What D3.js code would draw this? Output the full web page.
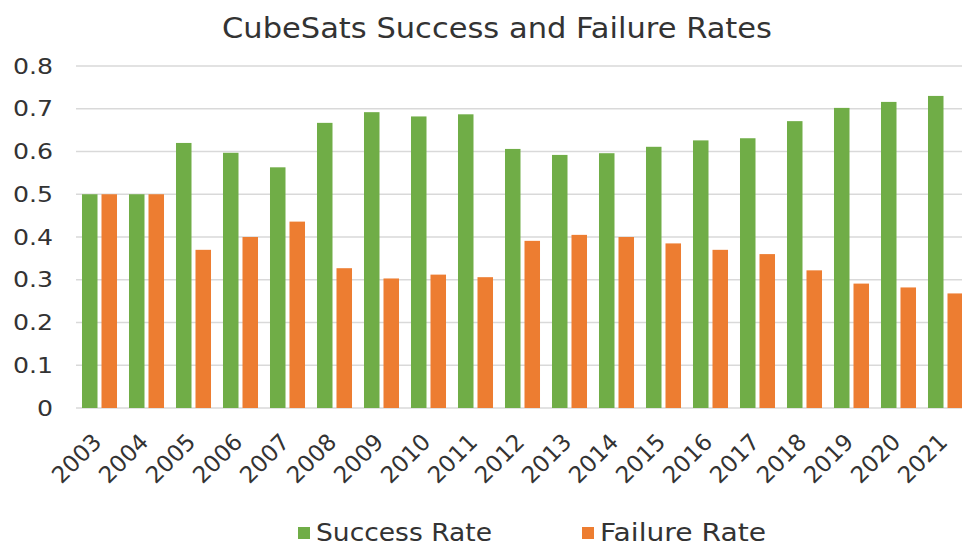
<!DOCTYPE html>
<html>
<head>
<meta charset="utf-8">
<script src="https://cdn.jsdelivr.net/npm/d3@7"></script>
<style>
  body { margin: 0; background: #fff; }
  svg { display: block; font-family: "DejaVu Sans", Verdana, sans-serif; }
</style>
</head>
<body>
<div id="chart"></div>
<script>
const width = 962;
const height = 546;

// data
const years = ["2003", "2004", "2005", "2006", "2007", "2008", "2009", "2010", "2011", "2012",
  "2013", "2014", "2015", "2016", "2017", "2018", "2019", "2020", "2021"];
const successRate = [0.5, 0.5, 0.62, 0.597, 0.563, 0.667, 0.692, 0.682, 0.687, 0.606,
  0.592, 0.596, 0.611, 0.626, 0.631, 0.671, 0.702, 0.716, 0.73];
const failureRate = [0.5, 0.5, 0.37, 0.4, 0.436, 0.327, 0.303, 0.312, 0.306, 0.391,
  0.405, 0.4, 0.385, 0.37, 0.36, 0.322, 0.291, 0.282, 0.268];
const seriesNames = ["Success Rate", "Failure Rate"];
const colors = ["#70ad47", "#ed7d31"];
const yTicks = [0, 0.1, 0.2, 0.3, 0.4, 0.5, 0.6, 0.7, 0.8];

const rows = years.map((y, i) => ({ year: y, values: [successRate[i], failureRate[i]] }));

const margin = { top: 66, left: 76, bottom: 138 };
const plotRight = 969; // plot runs past the right edge, as in the reference
const stretch = 1.2;   // the reference tick text is drawn wide

const svg = d3.select("#chart")
  .append("svg")
  .attr("width", width)
  .attr("height", height);

const x = d3.scaleBand()
  .domain(years)
  .range([margin.left, plotRight])
  .paddingInner(0.255)
  .paddingOuter(0.1275);

const xs = d3.scaleBand()
  .domain([0, 1])
  .range([0, x.bandwidth()])
  .paddingInner(0.205);

const y = d3.scaleLinear()
  .domain([0, 0.8])
  .range([height - margin.bottom, margin.top]);

// gridlines
svg.append("g")
  .selectAll("line")
  .data(yTicks)
  .join("line")
  .attr("x1", margin.left)
  .attr("x2", plotRight)
  .attr("y1", d => y(d))
  .attr("y2", d => y(d))
  .attr("stroke", "#d9d9d9")
  .attr("stroke-width", 1.5);

// y tick labels
svg.append("g")
  .selectAll("text")
  .data(yTicks)
  .join("text")
  .attr("transform", d => `translate(53,${y(d)}) scale(${stretch},1)`)
  .attr("dy", "0.36em")
  .attr("text-anchor", "end")
  .attr("font-size", 21)
  .attr("fill", "#333")
  .text(d => d3.format("")(d));

// bars
svg.append("g")
  .selectAll("g")
  .data(rows)
  .join("g")
  .attr("transform", d => `translate(${x(d.year)},0)`)
  .selectAll("rect")
  .data(d => d.values)
  .join("rect")
  .attr("x", (d, i) => xs(i))
  .attr("width", xs.bandwidth())
  .attr("y", d => y(d))
  .attr("height", d => y(0) - y(d))
  .attr("fill", (d, i) => colors[i]);

// x tick labels
svg.append("g")
  .selectAll("text")
  .data(years)
  .join("text")
  .attr("transform", d => `translate(${x(d) + x.bandwidth() / 2 - 8},${y(0) + 24}) rotate(-45)`)
  .attr("text-anchor", "end")
  .attr("dy", "0.7em")
  .attr("font-size", 23)
  .attr("fill", "#333")
  .text(d => d);

// title
svg.append("text")
  .attr("x", 497)
  .attr("y", 38)
  .attr("text-anchor", "middle")
  .attr("font-size", 29)
  .attr("textLength", 550)
  .attr("lengthAdjust", "spacingAndGlyphs")
  .attr("fill", "#333")
  .text("CubeSats Success and Failure Rates");

// legend
const legendX = [298, 582];
const legend = svg.append("g")
  .selectAll("g")
  .data(seriesNames)
  .join("g")
  .attr("transform", (d, i) => `translate(${legendX[i]},533)`);

legend.append("rect")
  .attr("x", 0)
  .attr("y", -6)
  .attr("width", 12)
  .attr("height", 12)
  .attr("fill", (d, i) => colors[i]);

legend.append("text")
  .attr("x", 18)
  .attr("y", 8)
  .attr("font-size", 24)
  .attr("textLength", (d, i) => [176, 166][i])
  .attr("lengthAdjust", "spacingAndGlyphs")
  .attr("fill", "#333")
  .text(d => d);
</script>
</body>
</html>
